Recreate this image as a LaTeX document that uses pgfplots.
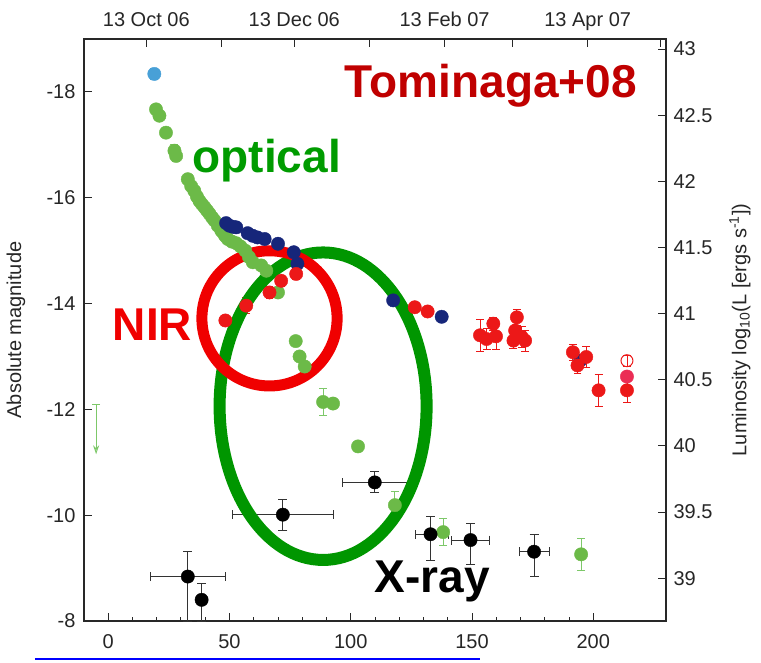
\documentclass[border=0pt]{standalone}
\usepackage{pgfplots}
\usepackage{pgfplotstable}
\pgfplotsset{compat=1.18}
\usepackage{fontspec}
\setmainfont{Liberation Sans}
\usetikzlibrary{arrows.meta}
\definecolor{cgreen}{RGB}{108,186,72}
\definecolor{cgreenerr}{RGB}{125,200,105}
\definecolor{cblue}{RGB}{72,160,215}
\definecolor{cnavy}{RGB}{22,38,122}
\definecolor{cred}{RGB}{236,24,24}
\definecolor{cpink}{RGB}{235,45,85}
\definecolor{tomi}{RGB}{192,0,0}
\definecolor{ringred}{RGB}{240,0,0}
\definecolor{ringgreen}{RGB}{0,150,0}
\definecolor{optgreen}{RGB}{0,155,0}
\definecolor{axgray}{RGB}{40,40,40}

\pgfplotstableread{
x y e
19.7 -17.67 0.10
21.1 -17.55 0.08
23.8 -17.23 0.10
27.3 -16.89 0.12
28.0 -16.79 0.10
32.8 -16.35 0.06
34.2 -16.22 0.06
35.5 -16.13 0.06
36.6 -16.02 0.06
37.6 -15.94 0.06
38.6 -15.88 0.06
39.7 -15.82 0.06
40.7 -15.76 0.06
41.7 -15.70 0.06
42.8 -15.63 0.06
43.8 -15.57 0.06
45.2 -15.47 0.06
46.6 -15.38 0.06
47.2 -15.35 0.06
48.2 -15.28 0.06
49.3 -15.22 0.06
51.0 -15.17 0.06
52.8 -15.14 0.06
54.5 -15.08 0.06
56.5 -15.00 0.06
58.0 -14.88 0.06
59.6 -14.78 0.06
63.1 -14.72 0.06
65.2 -14.62 0.06
70.0 -14.21 0.08
77.3 -13.29 0.08
78.9 -13.00 0.08
81.0 -12.81 0.08
88.6 -12.14 0.25
92.7 -12.11 0.08
103.0 -11.30 0.10
118.2 -10.19 0.25
138.1 -9.68 0.25
195.0 -9.26 0.30
}\optical

\pgfplotstableread{
x y e
48.6 -15.52 0.08
50.0 -15.47 0.08
51.5 -15.45 0.08
52.8 -15.44 0.08
57.5 -15.33 0.08
59.6 -15.28 0.08
61.5 -15.25 0.08
64.5 -15.22 0.08
70.0 -15.13 0.08
76.5 -14.97 0.08
78.0 -14.75 0.08
117.5 -14.06 0.06
137.5 -13.75 0.06
194.6 -12.92 0.12
}\navy

\pgfplotstableread{
x y e
48.3 -13.68 0.10
56.9 -13.96 0.15
66.5 -14.21 0.12
71.3 -14.43 0.10
77.5 -14.56 0.10
126.4 -13.93 0.08
131.7 -13.85 0.08
153.3 -13.40 0.30
156.0 -13.33 0.20
158.8 -13.62 0.12
159.9 -13.38 0.25
167.1 -13.30 0.15
167.8 -13.49 0.20
168.5 -13.74 0.15
170.5 -13.37 0.20
171.9 -13.30 0.20
191.6 -13.08 0.15
193.5 -12.83 0.15
197.1 -12.99 0.20
202.2 -12.36 0.30
213.9 -12.36 0.22
}\nir

\pgfplotstableread{
x y xm xp ym yp
32.8 -8.84 15.4 15.5 0.47 0.84
38.5 -8.40 0 0 0.30 0.40
72.0 -10.01 20.6 20.7 0.28 0.30
109.9 -10.62 13.5 14.5 0.20 0.20
132.9 -9.64 6.2 7.3 0.34 0.49
149.4 -9.53 7.8 8.0 0.32 0.47
175.6 -9.31 6.0 6.4 0.33 0.46
}\xray

\begin{document}
\begin{tikzpicture}
\useasboundingbox (-84bp,-42bp) rectangle (677bp,621bp);
\begin{axis}[
  at={(0,0)}, anchor=south west,
  scale only axis, width=582bp, height=582bp,
  xmin=-10, xmax=230, ymin=-19, ymax=-8, y dir=reverse,
  xtick={0,50,...,200}, minor x tick num=4,
  ytick={-18,-16,-14,-12,-10,-8},
  xtick pos=bottom, ytick pos=left,
  tick align=inside,
  major tick length=8bp, minor tick length=4bp,
  axis line style={line width=1.2bp, axgray},
  every tick/.style={line width=1bp, axgray},
  ticklabel style={font=\fontsize{20bp}{24bp}\selectfont, text=black!85},
  xticklabel style={anchor=base, yshift=-27bp},
  yticklabel style={xshift=-5bp},
  /pgf/number format/assume math mode=true,
  ylabel={Absolute magnitude},
  ylabel style={font=\fontsize{20bp}{24bp}\selectfont, text=black!85, at={(axis description cs:-0.1168,0.5)}, anchor=center},
  clip=false,
]
% upper limit arrow
\addplot[cgreenerr, line width=1bp, -{Stealth[length=9bp, width=6bp, open]}, quiver={u=0, v=0.95}] coordinates {(-5,-12.1)};
\addplot[only marks, mark=-, mark size=4pt, cgreenerr, mark options={line width=1bp}] coordinates {(-5,-12.1)};
% optical
\addplot[only marks, mark=*, mark size=6.7pt, mark options={draw=cgreen, fill=cgreen},
  error bars/.cd, y dir=both, y explicit,
  error bar style={cgreenerr, line width=0.9bp},
  error mark options={rotate=90, mark size=4pt, cgreenerr, line width=0.9bp}]
  table[x=x, y=y, y error=e] {\optical};
% early blue
\addplot[only marks, mark=*, mark size=6.7pt, mark options={draw=cblue, fill=cblue},
  error bars/.cd, y dir=both, y explicit,
  error bar style={cblue, line width=0.9bp},
  error mark options={rotate=90, mark size=4pt, cblue, line width=0.9bp}]
  coordinates {(19,-18.34) +- (0,0.1)};
% navy
\addplot[only marks, mark=*, mark size=6.7pt, mark options={draw=cnavy, fill=cnavy},
  error bars/.cd, y dir=both, y explicit,
  error bar style={cnavy!80, line width=0.9bp},
  error mark options={rotate=90, mark size=4pt, cnavy!80, line width=0.9bp}]
  table[x=x, y=y, y error=e] {\navy};
% NIR
\addplot[only marks, mark=*, mark size=6.7pt, mark options={draw=cred, fill=cred},
  error bars/.cd, y dir=both, y explicit,
  error bar style={cred, line width=0.9bp},
  error mark options={rotate=90, mark size=4pt, cred, line width=0.9bp}]
  table[x=x, y=y, y error=e] {\nir};
\addplot[only marks, mark=*, mark size=6.7pt, mark options={draw=cpink, fill=cpink}]
  coordinates {(213.9,-12.62)};
\addplot[only marks, mark=o, mark size=6pt, mark options={draw=cred, line width=1bp},
  error bars/.cd, y dir=both, y explicit,
  error bar style={cred, line width=0.9bp},
  error mark options={rotate=90, mark size=4pt, cred, line width=0.9bp}]
  coordinates {(213.9,-12.92) +- (0,0.1)};
% X-ray
\addplot[only marks, mark=*, mark size=6.7pt, mark options={draw=black, fill=black},
  error bars/.cd, x dir=both, x explicit, y dir=both, y explicit,
  error bar style={black!80, line width=1bp},
  error mark options={rotate=90, mark size=4.5pt, black!80, line width=1bp}]
  table[x=x, y=y, x error plus=xp, x error minus=xm, y error plus=yp, y error minus=ym] {\xray};
% annotations
\draw[ringgreen, line width=12bp] (axis cs:88.6,-12.06) ellipse [x radius=103.5bp, y radius=153.75bp];
\draw[ringred, line width=11bp] (axis cs:66.5,-13.72) circle [radius=67.6bp];
\node[anchor=base west, inner sep=0, font=\fontsize{46bp}{50bp}\selectfont\bfseries, text=tomi] at (axis cs:97.5,-17.89) {Tominaga+08};
\node[anchor=base west, inner sep=0, font=\fontsize{46bp}{50bp}\selectfont\bfseries, text=optgreen] at (axis cs:34.7,-16.47) {optical};
\node[anchor=base west, inner sep=0, font=\fontsize{46bp}{50bp}\selectfont\bfseries, text=ringred] at (axis cs:1.8,-13.30) {NIR};
\node[anchor=base west, inner sep=0, font=\fontsize{46bp}{50bp}\selectfont\bfseries, text=black] at (axis cs:109.9,-8.53) {X-ray};
\end{axis}
\begin{axis}[
  at={(0,0)}, anchor=south west,
  scale only axis, width=582bp, height=582bp,
  xmin=-10, xmax=230, ymin=38.676, ymax=43.076,
  axis x line*=top, axis y line*=right,
  xtick={15.7,46.7,76.7,107.7,138.7,166.7,197.7,227.7},
  xticklabels={13 Oct 06,,13 Dec 06,,13 Feb 07,,13 Apr 07,},
  ytick={39,39.5,40,40.5,41,41.5,42,42.5,43},
  yticklabels={39,39.5,40,40.5,41,41.5,42,42.5,43},
  tick align=inside,
  major tick length=8bp,
  axis line style={line width=1.2bp, axgray},
  every tick/.style={line width=1bp, axgray},
  ticklabel style={font=\fontsize{20bp}{24bp}\selectfont, text=black!85},
  xticklabel style={anchor=base, yshift=12bp},
  yticklabel style={xshift=4bp},
  ylabel={Luminosity log\textsubscript{10}(L [ergs s\textsuperscript{-1}])},
  ylabel style={font=\fontsize{20bp}{24bp}\selectfont, text=black!85, at={(axis description cs:1.127,0.5)}, anchor=center},
]
\addplot[draw=none] coordinates {(0,40)};
\end{axis}
\draw[blue, line width=1.4bp] (-49bp,-38bp) -- (396bp,-38bp);
\end{tikzpicture}
\end{document}
